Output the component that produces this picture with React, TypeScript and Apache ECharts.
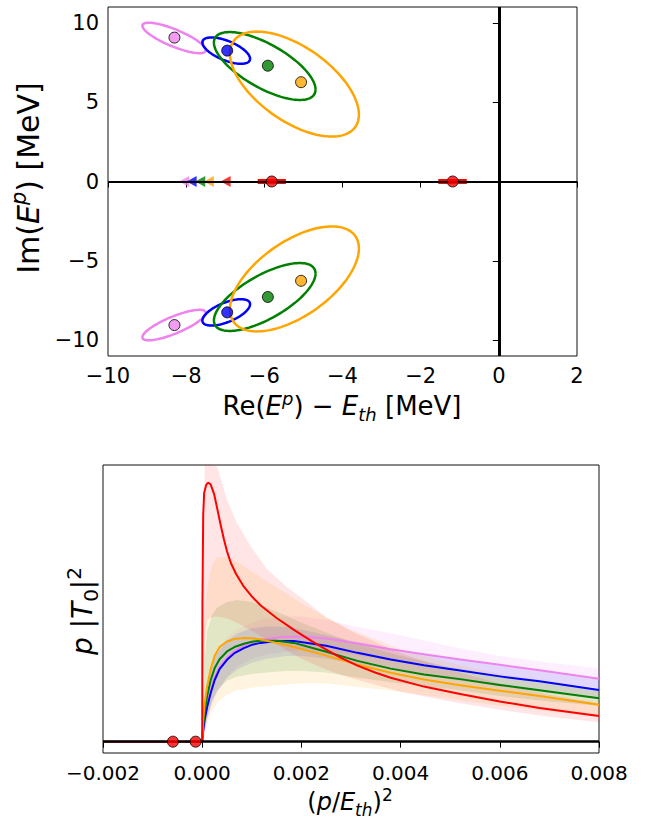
import { useEffect, useRef } from "react";
import * as echarts from "echarts";

const FONT = "DejaVu Sans";
const VIOLET = "#EE82EE";
const BLUE = "#0000FF";
const GREEN = "#008000";
const ORANGE = "#FFA500";
const RED = "#FF0000";

// ---------- top panel: poles in the complex plane ----------
const poleColors = [VIOLET, BLUE, GREEN, ORANGE];
const poleRe = [-8.3, -6.95, -5.91, -5.06];
const poleImUpper = [9.07, 8.25, 7.3, 6.26];
const poleImLower = [-9.05, -8.25, -7.28, -6.26];
// uncertainty ellipses: centre (Re, Im), half-width, half-height, tilt correlation
const ellipseCx = [-8.31, -6.975, -5.99, -5.23];
const ellipseCy = [9.05, 8.25, 7.28, 6.14];
const ellipseRx = [0.81, 0.61, 1.3, 1.65];
const ellipseRy = [0.96, 0.83, 2.14, 3.31];
const ellipseRho = [0.8, 0.62, 0.69, 0.58];
// virtual states on the real axis
const triangleColors = [VIOLET, BLUE, GREEN, ORANGE, RED];
const triangleRe = [-8.05, -7.86, -7.64, -7.42, -6.99];
// bound states with error bars
const redPoleRe = [-5.81, -1.18];
const redPoleLo = [-6.17, -1.55];
const redPoleHi = [-5.45, -0.82];
const topYTicks = [-10, -5, 0, 5, 10];

// ---------- bottom panel: line shapes ----------
const redCurve = [[-0.002, 0], [0, 0], [0.000005, 0.5], [0.00002, 0.82], [0.00004, 0.9], [0.00008, 0.928], [0.00012, 0.936], [0.00017, 0.93], [0.00024, 0.895], [0.0003, 0.845], [0.00037, 0.785], [0.00044, 0.73], [0.0005, 0.688], [0.00058, 0.645], [0.00068, 0.607], [0.00084, 0.56], [0.001, 0.525], [0.00118, 0.492], [0.0015, 0.447], [0.00185, 0.404], [0.0022, 0.364], [0.0025, 0.333], [0.0028, 0.303], [0.00313, 0.275], [0.0035, 0.249], [0.0038, 0.231], [0.00447, 0.199], [0.0052, 0.172], [0.006, 0.145], [0.0068, 0.122], [0.008, 0.093]];
const orangeCurve = [[0, 0], [0.00002, 0.08], [0.00005, 0.14], [0.0001, 0.2], [0.00017, 0.262], [0.00025, 0.31], [0.00035, 0.342], [0.0005, 0.362], [0.00065, 0.371], [0.00084, 0.375], [0.001, 0.374], [0.00118, 0.369], [0.0015, 0.357], [0.00185, 0.342], [0.0025, 0.311], [0.00313, 0.279], [0.0038, 0.249], [0.00447, 0.225], [0.0052, 0.204], [0.006, 0.184], [0.0068, 0.165], [0.008, 0.133]];
const greenCurve = [[0, 0], [0.00002, 0.06], [0.00005, 0.11], [0.0001, 0.165], [0.00017, 0.222], [0.00025, 0.265], [0.00035, 0.298], [0.0005, 0.326], [0.00065, 0.342], [0.00084, 0.354], [0.001, 0.361], [0.00118, 0.365], [0.0015, 0.365], [0.00185, 0.357], [0.0025, 0.325], [0.00313, 0.292], [0.0038, 0.264], [0.00447, 0.243], [0.0052, 0.226], [0.006, 0.205], [0.0068, 0.186], [0.008, 0.157]];
const blueCurve = [[0, 0], [0.00002, 0.04], [0.00005, 0.08], [0.0001, 0.125], [0.00017, 0.175], [0.00025, 0.222], [0.00035, 0.262], [0.0005, 0.296], [0.00065, 0.32], [0.00084, 0.338], [0.001, 0.35], [0.00118, 0.357], [0.0015, 0.364], [0.00185, 0.364], [0.0025, 0.347], [0.00313, 0.321], [0.0038, 0.297], [0.00447, 0.276], [0.0052, 0.257], [0.006, 0.236], [0.0068, 0.218], [0.008, 0.187]];
const violetCurve = [[0, 0], [0.00002, 0.045], [0.00005, 0.09], [0.0001, 0.135], [0.00017, 0.185], [0.00025, 0.232], [0.00035, 0.27], [0.0005, 0.302], [0.00065, 0.327], [0.00084, 0.347], [0.001, 0.359], [0.0012, 0.369], [0.0016, 0.378], [0.002, 0.38], [0.0025, 0.373], [0.0031, 0.356], [0.0038, 0.334], [0.0045, 0.315], [0.0052, 0.297], [0.006, 0.278], [0.0068, 0.258], [0.008, 0.227]];

const bandX = [0, 0.00005, 0.0001, 0.0002, 0.0003, 0.0005, 0.0007, 0.001, 0.0013, 0.0017, 0.002, 0.0025, 0.003, 0.004, 0.005, 0.006, 0.007, 0.008];
const violetBandHi = [0, 0.12, 0.2, 0.29, 0.33, 0.375, 0.405, 0.43, 0.445, 0.452, 0.452, 0.44, 0.42, 0.385, 0.345, 0.31, 0.285, 0.265];
const violetBandLo = [0, 0.04, 0.08, 0.14, 0.18, 0.235, 0.27, 0.3, 0.315, 0.325, 0.33, 0.325, 0.315, 0.29, 0.265, 0.24, 0.215, 0.195];
const blueBandHi = [0, 0.12, 0.2, 0.28, 0.32, 0.365, 0.39, 0.41, 0.416, 0.414, 0.405, 0.385, 0.365, 0.33, 0.3, 0.275, 0.25, 0.225];
const blueBandLo = [0, 0.04, 0.08, 0.14, 0.18, 0.23, 0.26, 0.285, 0.3, 0.31, 0.31, 0.3, 0.285, 0.255, 0.225, 0.2, 0.175, 0.155];
const greenBandHi = [0, 0.3, 0.4, 0.46, 0.485, 0.505, 0.512, 0.505, 0.485, 0.455, 0.43, 0.395, 0.36, 0.31, 0.27, 0.24, 0.215, 0.19];
const greenBandLo = [0, 0.04, 0.09, 0.15, 0.185, 0.22, 0.235, 0.245, 0.25, 0.255, 0.255, 0.25, 0.235, 0.21, 0.19, 0.165, 0.145, 0.13];
const orangeBandHi = [0, 0.45, 0.56, 0.64, 0.665, 0.668, 0.65, 0.615, 0.58, 0.535, 0.5, 0.45, 0.405, 0.335, 0.285, 0.245, 0.215, 0.19];
const orangeBandLo = [0, 0.02, 0.06, 0.11, 0.14, 0.17, 0.185, 0.195, 0.2, 0.207, 0.21, 0.21, 0.2, 0.18, 0.155, 0.13, 0.11, 0.09];
const redBandHi = [0, 1.05, 1.1, 1.06, 0.994, 0.874, 0.79, 0.7, 0.625, 0.56, 0.52, 0.45, 0.4, 0.32, 0.26, 0.21, 0.17, 0.14];
const redBandLo = [0, 0.35, 0.44, 0.45, 0.452, 0.445, 0.43, 0.4, 0.37, 0.33, 0.3, 0.26, 0.23, 0.18, 0.145, 0.115, 0.09, 0.07];
const bottomDotsX = [-0.00059, -0.000133];

const minus = (s: string) => s.replace("-", "\u2212");

function richStyles(size: number) {
  const lh = Math.round(size * 1.32);
  const small = Math.round(size * 0.7);
  return {
    n: { fontSize: size, fontFamily: FONT, fill: "#000", lineHeight: lh },
    i: { fontSize: size, fontFamily: FONT, fontStyle: "italic", fill: "#000", lineHeight: lh },
    sup: { fontSize: small, fontFamily: FONT, fontStyle: "italic", fill: "#000", lineHeight: small, verticalAlign: "top" },
    supn: { fontSize: small, fontFamily: FONT, fill: "#000", lineHeight: small, verticalAlign: "top" },
    sub: { fontSize: small, fontFamily: FONT, fontStyle: "italic", fill: "#000", lineHeight: small, verticalAlign: "bottom" },
    subn: { fontSize: small, fontFamily: FONT, fill: "#000", lineHeight: small, verticalAlign: "bottom" },
  };
}

function bandSeries(color: string, hi: number[], lo: number[]) {
  return {
    type: "custom",
    xAxisIndex: 1,
    yAxisIndex: 1,
    z: 1,
    silent: true,
    data: [[0, 0]],
    renderItem: (params: any, api: any) => {
      const cs = params.coordSys;
      const pts: number[][] = [];
      for (let k = 0; k < bandX.length; k++) pts.push(api.coord([bandX[k], hi[k]]));
      for (let k = bandX.length - 1; k >= 0; k--) pts.push(api.coord([bandX[k], lo[k]]));
      const clipped = pts.map((p) => [p[0], Math.max(p[1], cs.y)]);
      return { type: "polygon", shape: { points: clipped, smooth: 0 }, style: { fill: color, stroke: "none" } };
    },
  };
}

function curveSeries(color: string, data: number[][], z: number) {
  return {
    type: "line",
    xAxisIndex: 1,
    yAxisIndex: 1,
    data,
    showSymbol: false,
    smooth: false,
    z,
    lineStyle: { color, width: 2, join: "round" },
    silent: true,
  };
}

function buildOption() {
  const ellipseData = ellipseCx
    .map((cx, i) => [cx, ellipseCy[i], ellipseRx[i], ellipseRy[i], ellipseRho[i], i])
    .concat(ellipseCx.map((cx, i) => [cx, -ellipseCy[i], ellipseRx[i], ellipseRy[i], -ellipseRho[i], i]));

  const poleDots = poleRe
    .map((x, i) => ({ value: [x, poleImUpper[i]], itemStyle: { color: poleColors[i] } }))
    .concat(poleRe.map((x, i) => ({ value: [x, poleImLower[i]], itemStyle: { color: poleColors[i] } })));

  const axisTickStyle = { show: true, inside: false, length: 6, lineStyle: { color: "#000", width: 1 } };

  return {
    animation: false,
    backgroundColor: "#fff",
    grid: [
      { left: 108, top: 7, width: 469, height: 349, show: true, borderColor: "#111", borderWidth: 1, backgroundColor: "transparent" },
      { left: 103, top: 465, width: 496, height: 288, show: true, borderColor: "#111", borderWidth: 1, backgroundColor: "transparent" },
    ],
    xAxis: [
      {
        type: "value", gridIndex: 0, min: -10, max: 2, interval: 2,
        axisLine: { show: false }, splitLine: { show: false }, axisTick: axisTickStyle,
        axisLabel: { fontSize: 21, fontFamily: FONT, color: "#000", margin: 9, formatter: (v: number) => minus(String(v)) },
      },
      {
        type: "value", gridIndex: 1, min: -0.002, max: 0.008, interval: 0.002,
        axisLine: { show: false }, splitLine: { show: false }, axisTick: axisTickStyle,
        axisLabel: {
          fontSize: 20, fontFamily: FONT, color: "#000", margin: 10,
          formatter: (v: number) => minus(Math.abs(v) < 1e-12 ? "0.000" : v.toFixed(3)),
        },
      },
    ],
    yAxis: [
      {
        type: "value", gridIndex: 0, min: -11, max: 11,
        axisLine: { show: false }, splitLine: { show: false },
        axisTick: { ...axisTickStyle, customValues: topYTicks },
        axisLabel: { fontSize: 21, fontFamily: FONT, color: "#000", margin: 9, customValues: topYTicks, formatter: (v: number) => minus(String(v)) },
      },
      {
        type: "value", gridIndex: 1, min: -0.041, max: 1,
        axisLine: { show: false }, splitLine: { show: false }, axisTick: { show: false }, axisLabel: { show: false },
      },
    ],
    graphic: [
      {
        type: "text", x: 342, y: 406,
        style: { text: "{n|Re(}{i|E}{sup|p}{n|) \u2212 }{i|E}{sub|th}{n| [MeV]}", rich: richStyles(26), align: "center", verticalAlign: "middle" },
      },
      {
        type: "text", x: 28, y: 178, rotation: Math.PI / 2,
        style: { text: "{n|Im(}{i|E}{sup|p}{n|) [MeV]}", rich: richStyles(30), align: "center", verticalAlign: "middle" },
      },
      {
        type: "text", x: 350, y: 802,
        style: { text: "{n|(}{i|p}{n|/}{i|E}{sub|th}{n|)}{supn|2}", rich: richStyles(24), align: "center", verticalAlign: "middle" },
      },
      {
        type: "text", x: 82, y: 611, rotation: Math.PI / 2,
        style: { text: "{i|p}{n| |}{i|T}{subn|0}{n||}{supn|2}", rich: richStyles(28), align: "center", verticalAlign: "middle" },
      },
    ],
    series: [
      // reference lines at zero (top)
      {
        type: "line", xAxisIndex: 0, yAxisIndex: 0, data: [], z: 1, silent: true,
        markLine: {
          silent: true, symbol: "none", label: { show: false }, animation: false,
          data: [
            { yAxis: 0, lineStyle: { color: "#000", width: 2, type: "solid" } },
            { xAxis: 0, lineStyle: { color: "#000", width: 3, type: "solid" } },
          ],
        },
      },
      // ellipses
      {
        type: "custom", xAxisIndex: 0, yAxisIndex: 0, z: 2, silent: true,
        data: ellipseData,
        renderItem: (params: any, api: any) => {
          const cx = api.value(0), cy = api.value(1), rx = api.value(2), ry = api.value(3), rho = api.value(4);
          const color = poleColors[api.value(5)];
          const phi = Math.acos(rho);
          const pts: number[][] = [];
          const n = 120;
          for (let k = 0; k <= n; k++) {
            const t = (2 * Math.PI * k) / n;
            pts.push(api.coord([cx + rx * Math.cos(t), cy - ry * Math.cos(t + phi)]));
          }
          return { type: "polyline", shape: { points: pts }, style: { fill: "none", stroke: color, lineWidth: 2.5 } };
        },
      },
      // error bars of the bound states
      {
        type: "custom", xAxisIndex: 0, yAxisIndex: 0, z: 3, silent: true,
        data: redPoleRe.map((x, i) => [x, 0, redPoleLo[i], redPoleHi[i]]),
        renderItem: (params: any, api: any) => {
          const a = api.coord([api.value(2), api.value(1)]);
          const b = api.coord([api.value(3), api.value(1)]);
          return { type: "line", shape: { x1: a[0], y1: a[1], x2: b[0], y2: b[1] }, style: { stroke: RED, lineWidth: 5 } };
        },
      },
      // virtual states (triangles)
      {
        type: "scatter", xAxisIndex: 0, yAxisIndex: 0, z: 4, silent: true,
        symbol: "triangle", symbolRotate: 90, symbolSize: [11, 10],
        data: triangleRe.map((x, i) => ({ value: [x, 0], itemStyle: { color: triangleColors[i] } })),
      },
      // resonance poles
      {
        type: "scatter", xAxisIndex: 0, yAxisIndex: 0, z: 5, silent: true, symbolSize: 11,
        itemStyle: { borderColor: "#000", borderWidth: 1 },
        data: poleDots,
      },
      // bound state poles
      {
        type: "scatter", xAxisIndex: 0, yAxisIndex: 0, z: 5, silent: true, symbolSize: 11,
        itemStyle: { color: RED, borderColor: "#000", borderWidth: 1 },
        data: redPoleRe.map((x) => [x, 0]),
      },
      // bottom panel bands
      bandSeries("rgba(238,130,238,0.13)", violetBandHi, violetBandLo),
      bandSeries("rgba(0,0,255,0.10)", blueBandHi, blueBandLo),
      bandSeries("rgba(0,128,0,0.12)", greenBandHi, greenBandLo),
      bandSeries("rgba(255,165,0,0.12)", orangeBandHi, orangeBandLo),
      bandSeries("rgba(255,0,0,0.10)", redBandHi, redBandLo),
      // zero line bottom
      {
        type: "line", xAxisIndex: 1, yAxisIndex: 1, data: [], z: 2, silent: true,
        markLine: {
          silent: true, symbol: "none", label: { show: false }, animation: false,
          data: [{ yAxis: 0, lineStyle: { color: "#000", width: 2.5, type: "solid" } }],
        },
      },
      curveSeries(VIOLET, violetCurve, 3),
      curveSeries(BLUE, blueCurve, 3),
      curveSeries(GREEN, greenCurve, 3),
      curveSeries(ORANGE, orangeCurve, 3),
      curveSeries(RED, redCurve, 4),
      {
        type: "scatter", xAxisIndex: 1, yAxisIndex: 1, z: 5, silent: true, symbolSize: 11,
        itemStyle: { color: RED, borderColor: "#000", borderWidth: 1 },
        data: bottomDotsX.map((x) => [x, 0]),
      },
    ],
  };
}

export default function App() {
  const ref = useRef<HTMLDivElement>(null);
  useEffect(() => {
    if (!ref.current) return;
    const chart = echarts.init(ref.current, null, { renderer: "svg" });
    chart.setOption(buildOption() as any);
    return () => chart.dispose();
  }, []);
  return (
    <div
      ref={ref}
      style={{ position: "absolute", left: 0, top: 0, width: 645, height: 818, background: "#fff" }}
    />
  );
}
